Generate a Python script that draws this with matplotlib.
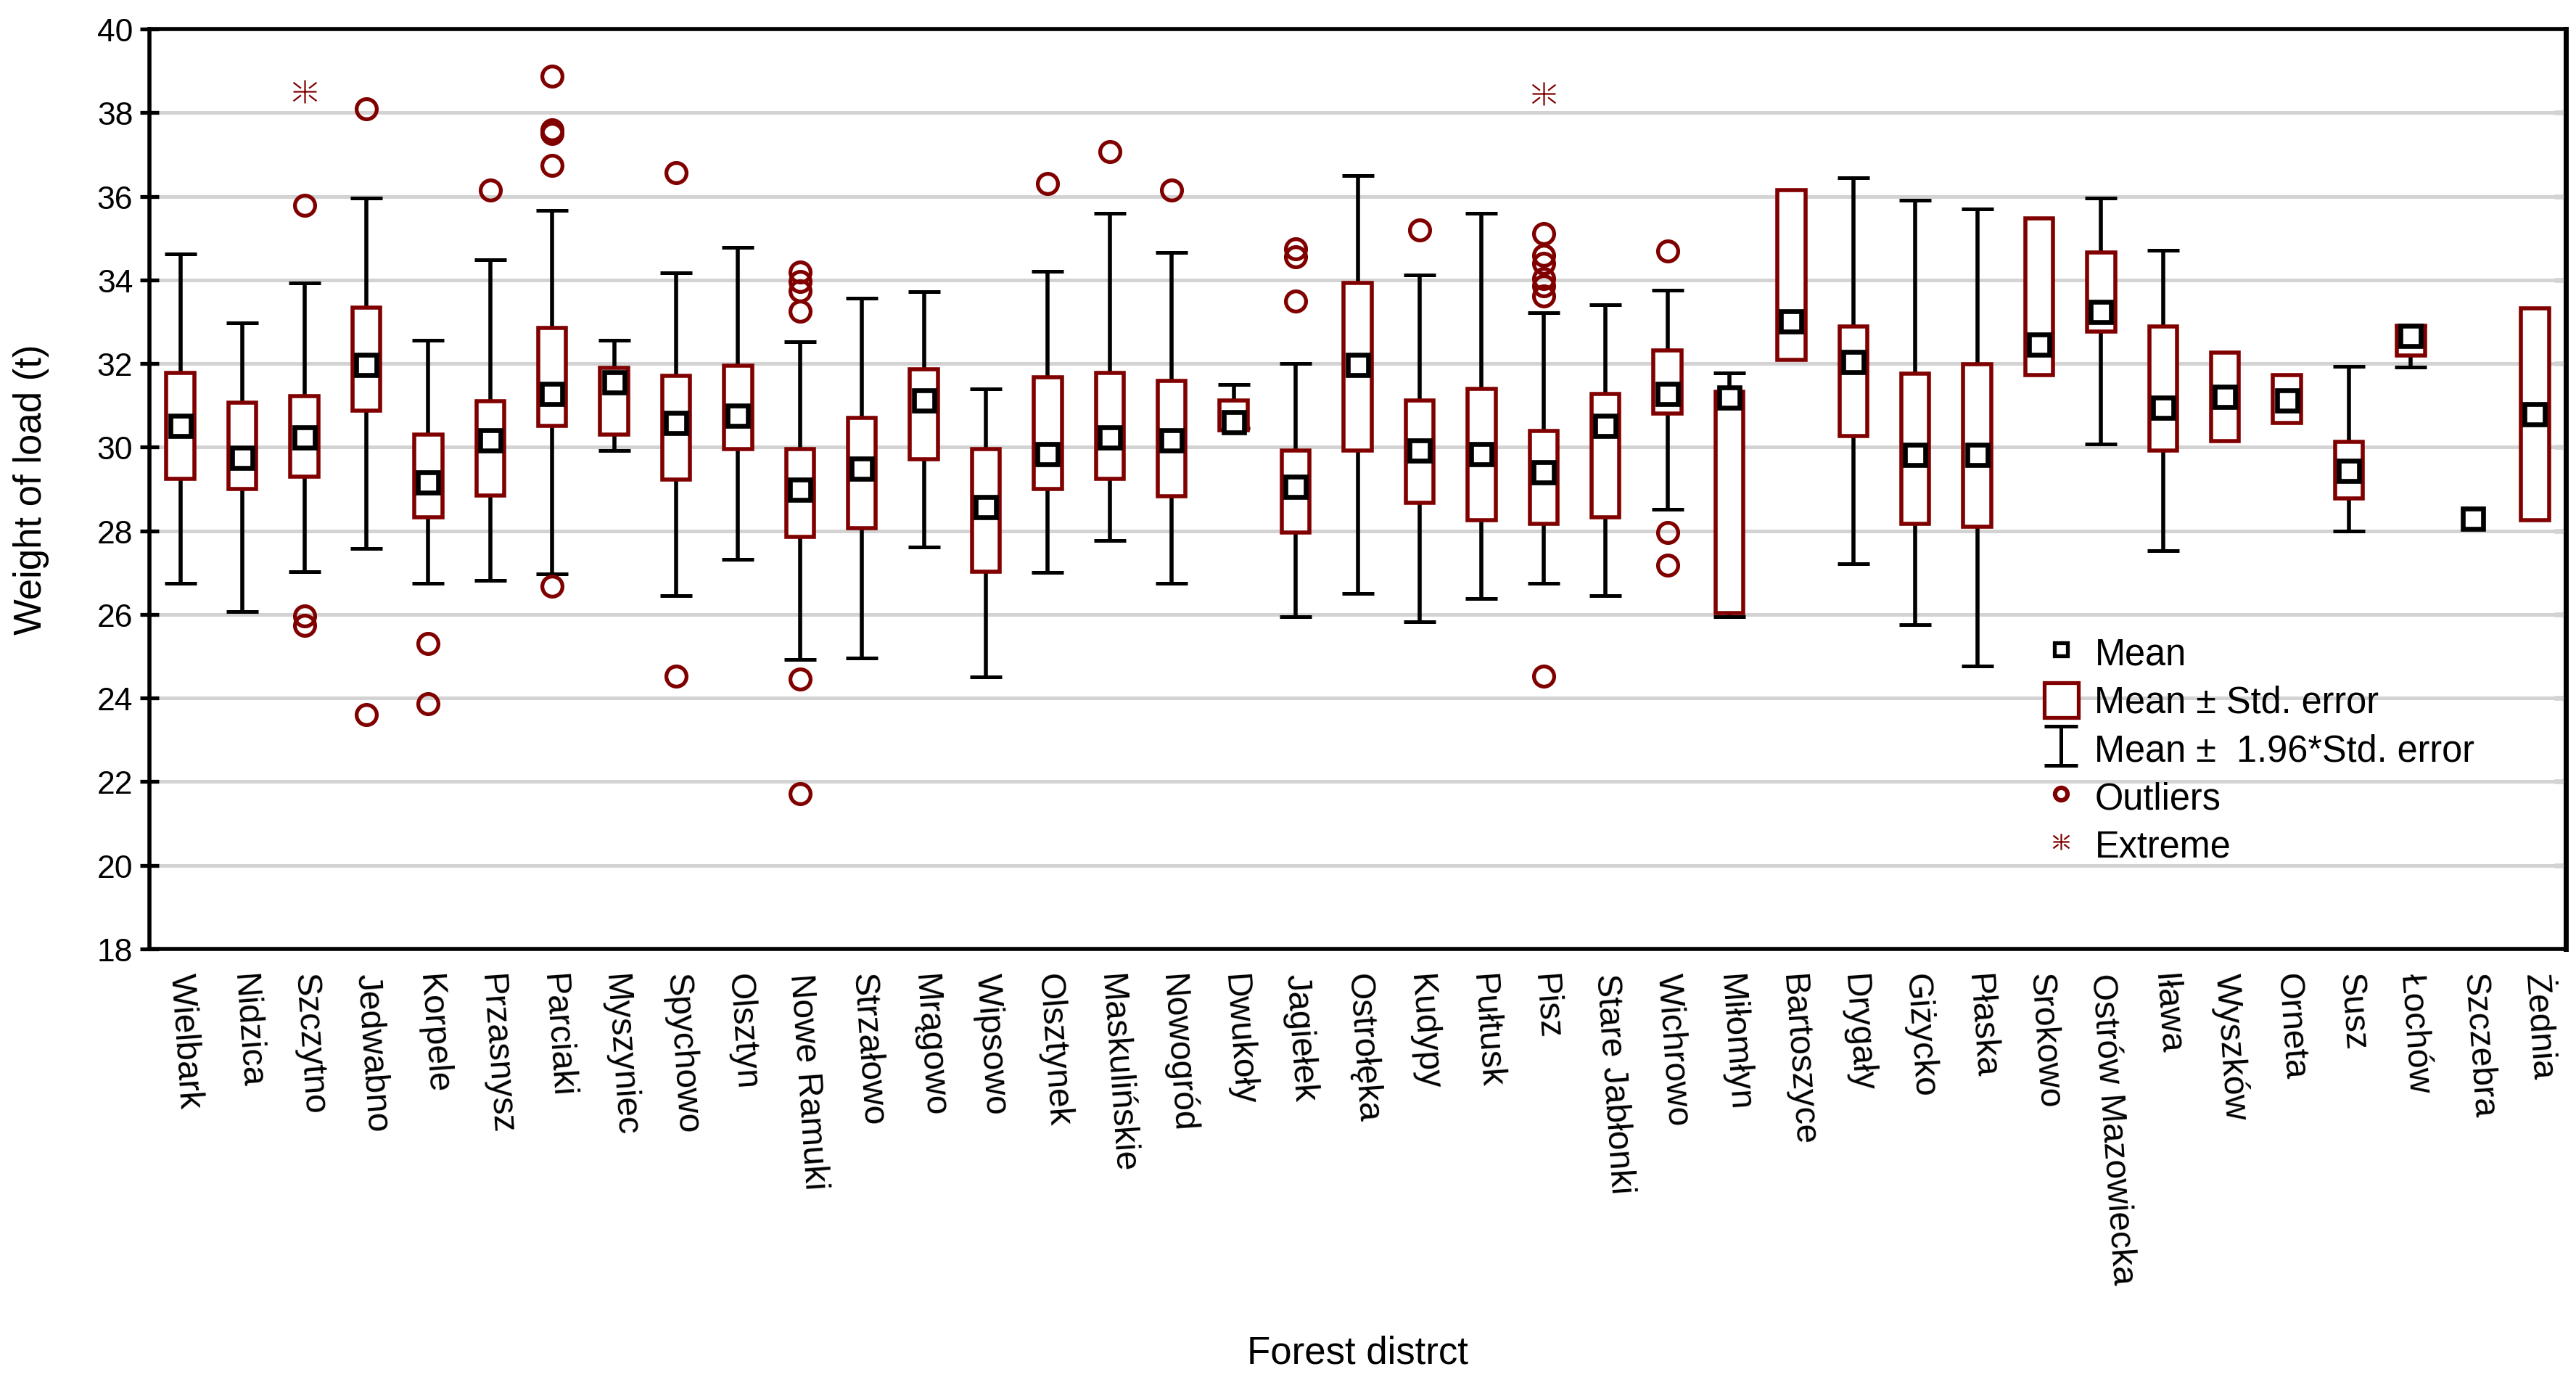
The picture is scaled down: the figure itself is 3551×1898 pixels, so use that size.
import numpy as np
import matplotlib
matplotlib.use("Agg")
import matplotlib.pyplot as plt
from matplotlib.path import Path
from matplotlib.lines import Line2D
from matplotlib.patches import Patch

plt.rcParams['font.family'] = ['Liberation Sans', 'DejaVu Sans']

# ---------------- data ----------------
districts = ["Wielbark", "Nidzica", "Szczytno", "Jedwabno", "Korpele", "Przasnysz",
             "Parciaki", "Myszyniec", "Spychowo", "Olsztyn", "Nowe Ramuki", "Strzałowo",
             "Mrągowo", "Wipsowo", "Olsztynek", "Maskulińskie", "Nowogród", "Dwukoły",
             "Jagiełek", "Ostrołęka", "Kudypy", "Pułtusk", "Pisz", "Stare Jabłonki",
             "Wichrowo", "Miłomłyn", "Bartoszyce", "Drygały", "Giżycko", "Płaska",
             "Srokowo", "Ostrów Mazowiecka", "Iława", "Wyszków", "Orneta", "Susz",
             "Łochów", "Szczebra", "Żednia"]

mean = [30.51, 29.74, 30.24, 31.96, 29.15, 30.17, 31.28, 31.55, 30.58, 30.76,
        28.99, 29.49, 31.12, 28.56, 29.84, 30.24, 30.16, 30.60, 29.05, 31.96,
        29.92, 29.84, 29.40, 30.51, 31.27, 31.18, 33.00, 32.04, 29.81, 29.81,
        32.46, 33.23, 30.94, 31.21, 31.12, 29.43, 32.66, 28.29, 30.78]

box_lo = [29.25, 29.00, 29.30, 30.88, 28.32, 28.85, 30.51, 30.30, 29.22, 29.96,
          27.86, 28.07, 29.71, 27.03, 29.00, 29.25, 28.83, 30.41, 27.96, 29.92,
          28.67, 28.26, 28.17, 28.32, 30.81, 26.04, 32.08, 30.26, 28.16, 28.10,
          31.72, 32.76, 29.92, 30.14, 30.58, 28.77, 32.19, np.nan, 28.25]

box_hi = [31.77, 31.07, 31.22, 33.34, 30.30, 31.10, 32.85, 31.89, 31.71, 31.95,
          29.96, 30.70, 31.86, 29.96, 31.67, 31.77, 31.59, 31.12, 29.92, 33.93,
          31.12, 31.40, 30.38, 31.27, 32.32, 31.32, 36.15, 32.88, 31.75, 31.99,
          35.47, 34.66, 32.89, 32.27, 31.72, 30.13, 32.90, np.nan, 33.32]

whisk_lo = [26.74, 26.07, 27.03, 27.58, 26.74, 26.81, 26.97, 29.92, 26.45, 27.31,
            24.93, 24.96, 27.61, 24.50, 27.00, 27.77, 26.75, 30.45, 25.95, 26.51,
            25.82, 26.38, 26.74, 26.45, 28.51, 25.95, np.nan, 27.21, 25.76, 24.77,
            np.nan, 30.07, 27.52, np.nan, np.nan, 28.00, 31.91, np.nan, np.nan]

whisk_hi = [34.63, 32.97, 33.92, 35.96, 32.55, 34.48, 35.66, 32.55, 34.17, 34.77,
            32.52, 33.56, 33.72, 31.40, 34.21, 35.60, 34.66, 31.49, 32.01, 36.50,
            34.12, 35.60, 33.22, 33.41, 33.75, 31.77, np.nan, 36.45, 35.91, 35.69,
            np.nan, 35.96, 34.70, np.nan, np.nan, 31.94, 32.90, np.nan, np.nan]

outlier_district = ["Szczytno", "Szczytno", "Szczytno",
                    "Jedwabno", "Jedwabno",
                    "Korpele", "Korpele",
                    "Przasnysz",
                    "Parciaki", "Parciaki", "Parciaki", "Parciaki", "Parciaki",
                    "Spychowo", "Spychowo",
                    "Nowe Ramuki", "Nowe Ramuki", "Nowe Ramuki", "Nowe Ramuki",
                    "Nowe Ramuki", "Nowe Ramuki",
                    "Olsztynek", "Maskulińskie", "Nowogród",
                    "Jagiełek", "Jagiełek", "Jagiełek",
                    "Kudypy",
                    "Pisz", "Pisz", "Pisz", "Pisz", "Pisz", "Pisz", "Pisz",
                    "Wichrowo", "Wichrowo", "Wichrowo"]
outlier_value = [35.78, 25.97, 25.74,
                 38.09, 23.60,
                 25.30, 23.86,
                 36.14,
                 38.87, 37.59, 37.51, 36.73, 26.68,
                 36.57, 24.53,
                 34.18, 33.96, 33.74, 33.25, 24.46, 21.72,
                 36.31, 37.07, 36.14,
                 34.74, 34.55, 33.49,
                 35.19,
                 35.11, 34.59, 34.40, 34.03, 33.86, 33.62, 24.53,
                 34.69, 27.96, 27.18]

extreme_district = ["Szczytno", "Pisz"]
extreme_value = [38.50, 38.45]

y_ticks = list(range(18, 41, 2))

# ---------------- styling ----------------
RED = '#800000'
W, H, DPI = 3551, 1899, 200
fig = plt.figure(figsize=(W / DPI, H / DPI), dpi=DPI)
ax = fig.add_axes([206 / W, 1 - 1309 / H, 3331 / W, 1268 / H])

x = np.arange(len(districts))
pos = {d: i for i, d in enumerate(districts)}
mean_a = np.array(mean)
blo = np.array(box_lo)
bhi = np.array(box_hi)
wlo = np.array(whisk_lo)
whi = np.array(whisk_hi)

# whiskers
m = ~np.isnan(wlo)
ax.errorbar(x[m], mean_a[m], yerr=[mean_a[m] - wlo[m], whi[m] - mean_a[m]],
            fmt='none', ecolor='black', elinewidth=2.0, capsize=7.8, capthick=1.8,
            zorder=2)

# boxes
mb = ~np.isnan(blo)
ax.bar(x[mb], bhi[mb] - blo[mb], bottom=blo[mb], width=0.45, facecolor='white',
       edgecolor=RED, linewidth=2.0, zorder=3)

# means
ax.plot(x, mean_a, ls='none', marker='s', ms=10.3, mfc='white', mec='black',
        mew=2.4, zorder=4)

# outliers
ox = [pos[d] for d in outlier_district]
ax.plot(ox, outlier_value, ls='none', marker='o', ms=10.0, mfc='none', mec=RED,
        mew=1.9, zorder=4)

# extremes
ext_path = Path([(-1, 0), (1, 0), (0, -1), (0, 1),
                 (-1, 0.8), (-0.35, 0.3), (1, 0.8), (0.35, 0.3),
                 (-1, -0.8), (-0.35, -0.3), (1, -0.8), (0.35, -0.3)],
                [Path.MOVETO, Path.LINETO] * 6)
ex = [pos[d] for d in extreme_district]
ax.plot(ex, extreme_value, ls='none', marker=ext_path, ms=11.5, mfc='none',
        mec=RED, mew=0.8, zorder=4)

# axes
ax.set_xlim(-0.5, len(districts) - 0.5)
ax.set_ylim(18, 40)
ax.set_yticks(y_ticks)
ax.set_yticklabels([str(t) for t in y_ticks])
ax.yaxis.grid(True, color='#D3D3D3', linewidth=1.8)
ax.set_axisbelow(True)

ax.set_xticks(x)
ax.set_xticklabels(districts, rotation=-86, rotation_mode='anchor',
                   ha='left', va='center', fontsize=17.3)
ax.set_xticks(x[::2], minor=True)
ax.tick_params(axis='x', which='major', length=0, pad=12)
ax.tick_params(axis='x', which='minor', direction='in', length=4.5, width=1.9,
               top=True, bottom=True)
ax.tick_params(axis='y', which='major', direction='inout', length=9.4, width=1.9,
               pad=3.5, labelsize=16)

sec = ax.secondary_yaxis('right')
sec.set_yticks(y_ticks[1:-1])
sec.tick_params(direction='in', length=5.8, width=1.9, labelright=False)
sec.spines['right'].set_linewidth(2.5)

for s in ax.spines.values():
    s.set_linewidth(2.0)
    s.set_color('black')

ax.set_ylabel('Weight of load (t)', fontsize=19)
ax.yaxis.set_label_coords(-0.0414, 0.5)
ax.set_xlabel('Forest distrct', fontsize=19)
ax.xaxis.set_label_coords(0.5, -0.419)

# legend
ibeam = Path([(-0.85, 1), (0.85, 1), (0, 1), (0, -1), (-0.85, -1), (0.85, -1)],
             [Path.MOVETO, Path.LINETO, Path.MOVETO, Path.LINETO, Path.MOVETO, Path.LINETO])
handles = [
    Line2D([], [], ls='none', marker='s', ms=6.5, mfc='white', mec='black', mew=1.9),
    Patch(facecolor='white', edgecolor=RED, linewidth=1.9),
    Line2D([], [], ls='none', marker=ibeam, ms=19.5, mfc='none', mec='black', mew=1.8),
    Line2D([], [], ls='none', marker='o', ms=6.2, mfc='none', mec=RED, mew=2.2),
    Line2D([], [], ls='none', marker=ext_path, ms=8, mfc='none', mec=RED, mew=0.8),
]
labels = ['Mean', 'Mean ± Std. error', 'Mean ±  1.96*Std. error', 'Outliers', 'Extreme']
ax.legend(handles, labels, loc='upper left', bbox_to_anchor=(0.7842, 0.342),
          frameon=False, fontsize=18.2, handlelength=0.92, handleheight=1.08,
          handletextpad=0.45, labelspacing=0.28, borderpad=0, borderaxespad=0)

fig.savefig('out.png', dpi=DPI)
